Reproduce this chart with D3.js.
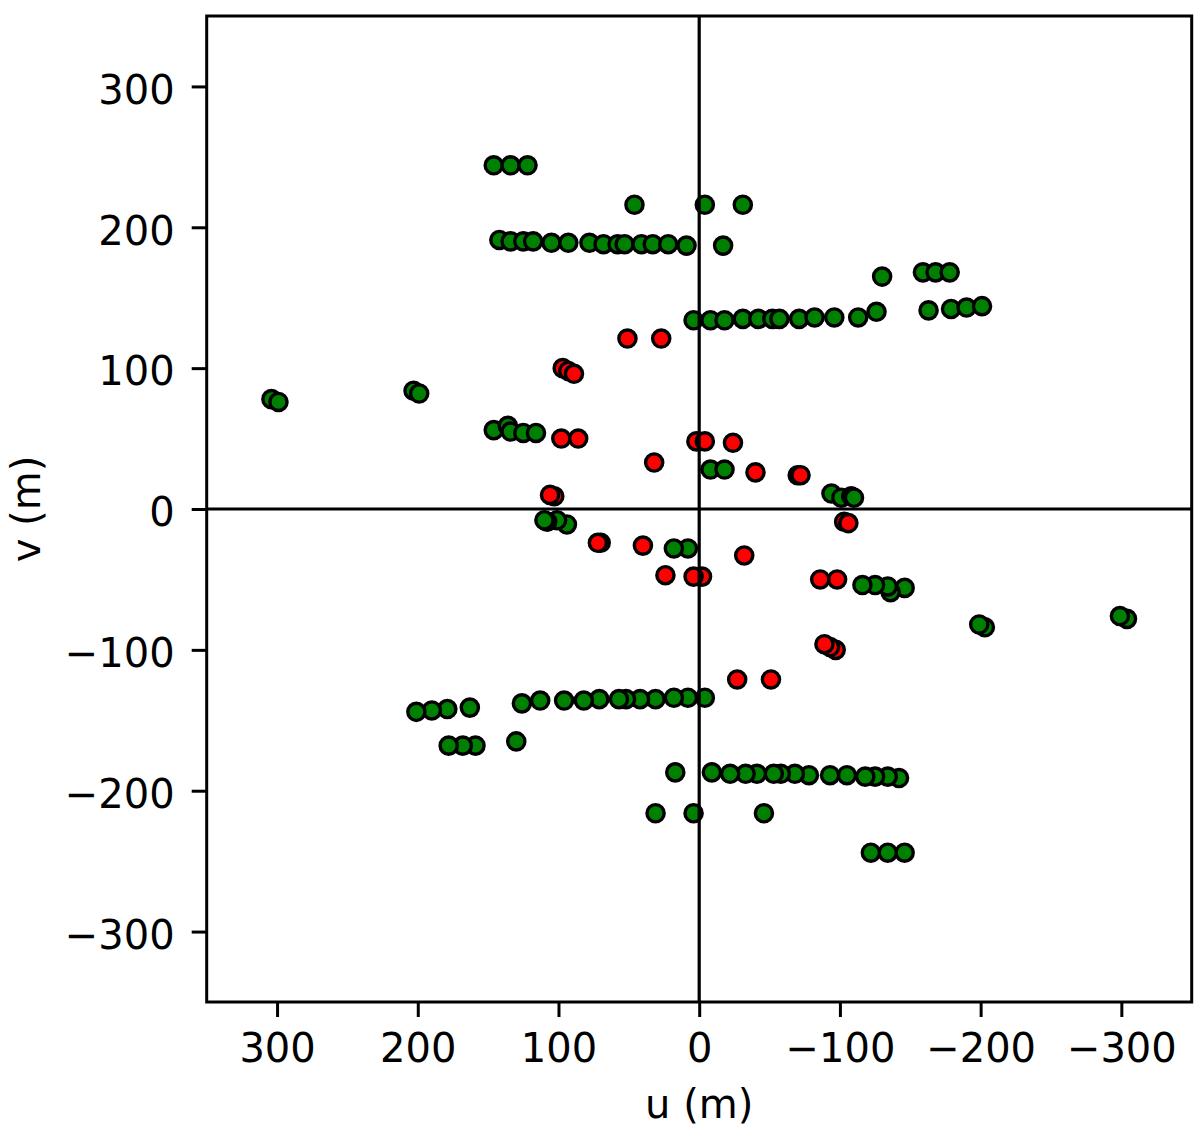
<!DOCTYPE html>
<html>
<head>
<meta charset="utf-8">
<script src="https://cdn.jsdelivr.net/npm/d3@7"></script>
<style>
  body { margin: 0; background: #fff; }
  text { font-family: "DejaVu Sans", sans-serif; }
</style>
</head>
<body>
<div id="chart"></div>
<script>
// uv-dækning
const greenU = [
  146, 134, 122, -146, -134, -122,
  46, -4, -31, -46, 4, 31,
  142, 134, 125, 118, 105, 93, 78, 68, 58, 53, 41, 33, 22, 9, -17,
  -142, -134, -125, -118, -105, -93, -78, -68, -58, -53, -41, -33, -22, -9, 17,
  -130, -159, -168, -178, 130, 159, 168, 178,
  4, -8, -18, -31, -42, -52, -57, -71, -82, -96, -113, -126, -163, -179, -190, -201,
  -4, 8, 18, 31, 42, 52, 57, 71, 82, 96, 113, 126, 163, 179, 190, 201,
  304, 299, -304, -299,
  203, 199, -203, -199,
  146, 136, 134, 125, 116, -146, -136, -134, -125, -116,
  -8, -18, 8, 18,
  -94, -101, -108, -110, 94, 101, 108, 110
];
const greenV = [
  244, 244, 244, -244, -244, -244,
  216, 216, 216, -216, -216, -216,
  191, 190, 190, 190, 189, 189, 189, 188, 188, 188, 188, 188, 188, 187, 187,
  -191, -190, -190, -190, -189, -189, -189, -188, -188, -188, -188, -188, -188, -187, -187,
  165, 168, 168, 168, -165, -168, -168, -168,
  134, 134, 134, 135, 135, 135, 135, 135, 136, 136, 136, 140, 141, 142, 143, 144,
  -134, -134, -134, -135, -135, -135, -135, -135, -136, -136, -136, -138, -141, -142, -143, -144,
  78, 76, -78, -76,
  84, 82, -84, -82,
  56, 59, 55, 54, 54, -56, -59, -55, -54, -54,
  28, 28, -28, -28,
  11, 8, 9, 8, -11, -8, -9, -8
];
const redU = [
  51, 27, -51, -27,
  97, 93, 89, -97, -93, -89,
  98, 86, -98, -86,
  2, -4, -24, -2, 4, 24,
  32, -32,
  -40, 40,
  -70, -72, 70, 72,
  103, 106, -103, -106
];
const redV = [
  121, 121, -121, -121,
  100, 98, 96, -100, -98, -96,
  50, 50, -50, -50,
  48, 48, 47, -48, -48, -47,
  33, -33,
  26, -26,
  24, 24, -24, -24,
  9, 10, -9, -10
];
const xTicks = [300, 200, 100, 0, -100, -200, -300];
const yTicks = [-300, -200, -100, 0, 100, 200, 300];

const width = 1200;
const height = 1136;
const plot = { left: 206.7, right: 1191.7, top: 16, bottom: 1002 };

const svg = d3.select("#chart")
  .append("svg")
  .attr("width", width)
  .attr("height", height);

// u-aksen vender om: positiv til venstre
const xScale = d3.scaleLinear().domain([350, -350]).range([plot.left, plot.right]);
const yScale = d3.scaleLinear().domain([-350, 350]).range([plot.bottom, plot.top]);

const greenPts = greenU.map((u, i) => [u, greenV[i]]);
const redPts = redU.map((u, i) => [u, redV[i]]);

function drawDots(pts, color) {
  svg.append("g")
    .selectAll("circle")
    .data(pts)
    .enter()
    .append("circle")
    .attr("cx", d => xScale(d[0]))
    .attr("cy", d => yScale(d[1]))
    .attr("r", 8.6)
    .attr("fill", color)
    .attr("stroke", "#000")
    .attr("stroke-width", 3.4);
}
drawDots(greenPts, "#008000");
drawDots(redPts, "#ff0000");

// nul-linjer ovenpå punkterne
svg.append("line")
  .attr("x1", xScale(0)).attr("x2", xScale(0))
  .attr("y1", plot.top).attr("y2", plot.bottom)
  .attr("stroke", "#000").attr("stroke-width", 3.2);
svg.append("line")
  .attr("x1", plot.left).attr("x2", plot.right)
  .attr("y1", yScale(0)).attr("y2", yScale(0))
  .attr("stroke", "#000").attr("stroke-width", 3.2);

// akser
const xAxis = svg.append("g")
  .attr("transform", "translate(0," + plot.bottom + ")")
  .call(d3.axisBottom(xScale).tickValues(xTicks).tickSize(15).tickPadding(17));
const yAxis = svg.append("g")
  .attr("transform", "translate(" + plot.left + ",0)")
  .call(d3.axisLeft(yScale).tickValues(yTicks).tickSize(15).tickPadding(17));

[xAxis, yAxis].forEach(g => {
  g.select(".domain").remove();
  g.selectAll(".tick line").attr("stroke", "#000").attr("stroke-width", 3);
  g.selectAll(".tick text")
    .attr("fill", "#000")
    .style("font-size", "40px")
    .style("font-family", "DejaVu Sans, sans-serif");
});
yAxis.selectAll(".tick text").attr("dy", "0.42em");

// ramme
svg.append("rect")
  .attr("x", plot.left).attr("y", plot.top)
  .attr("width", plot.right - plot.left)
  .attr("height", plot.bottom - plot.top)
  .attr("fill", "none")
  .attr("stroke", "#000")
  .attr("stroke-width", 3);

// aksetitler
svg.append("text")
  .attr("x", (plot.left + plot.right) / 2)
  .attr("y", 1118)
  .attr("text-anchor", "middle")
  .style("font-size", "40px")
  .text("u (m)");

svg.append("text")
  .attr("transform", "translate(40," + (plot.top + plot.bottom) / 2 + ") rotate(-90)")
  .attr("text-anchor", "middle")
  .style("font-size", "40px")
  .text("v (m)");
</script>
</body>
</html>
